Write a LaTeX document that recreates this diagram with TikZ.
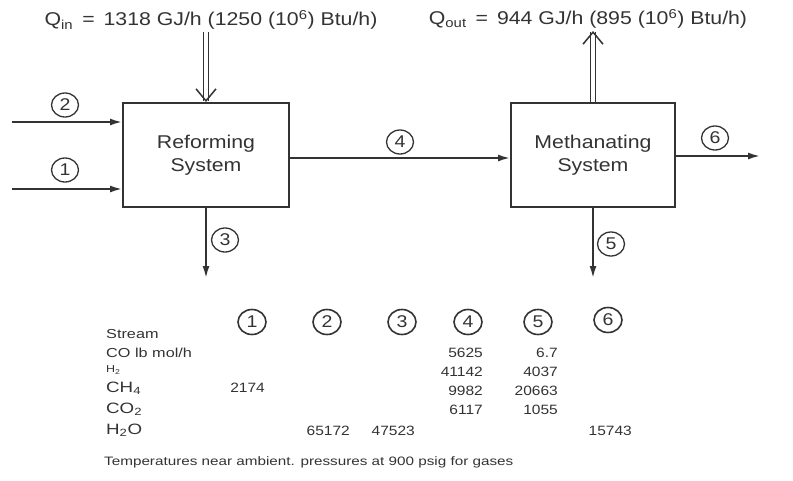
\documentclass[tikz,border=0pt]{standalone}
\usepackage{fontspec}
\setmainfont[FakeStretch=1.15]{Liberation Sans}
\newfontfamily\tabfont[FakeStretch=1.25]{Liberation Sans}
\usepackage{tikz}
\usetikzlibrary{positioning, arrows.meta, shapes.geometric}

\begin{document}
\begin{tikzpicture}[
    x=1pt, y=-1pt,
    text=black!80,
    font=\fontsize{18.5}{23}\selectfont,
    unit/.style={draw=black!80, line width=2pt, minimum width=166pt,
                 minimum height=104pt, align=center, inner sep=0pt},
    tag/.style={ellipse, draw=black!80, line width=1.3pt, minimum width=27pt,
                minimum height=24pt, inner sep=0pt,
                font=\fontsize{17}{17}\selectfont},
    head/.style={tag, line width=1.6pt, minimum width=28pt, minimum height=25pt},
    flow/.style={-{Latex[length=12pt, width=7pt]}, line width=1.8pt, draw=black!80},
    heat/.style={double=white, double distance=4pt, line width=1.3pt, draw=black!80},
    barb/.style={-{Straight Barb[length=12pt, width=20pt]}, line width=1.5pt, draw=black!80},
    qlab/.style={inner sep=0pt},
    rowlab/.style={anchor=west, inner sep=0pt, font=\tabfont\fontsize{13}{13}\selectfont},
    species/.style={rowlab, font=\tabfont\fontsize{15}{15}\selectfont},
    val/.style={anchor=east, inner sep=0pt, font=\fontsize{13.5}{13.5}\selectfont},
  ]
  \useasboundingbox (0,0) rectangle (793,480);
  % ---- process units ----
  \node[unit] (reform) at (206,155) {Reforming\\System};
  \node[unit, minimum width=164pt] (methan) at (593,155) {Methanating\\System};
  % ---- heat duties ----
  \node[qlab] (qin)  at (211,20) {Q\textsubscript{in} \,=\, 1318 GJ/h (1250 (10\textsuperscript{6}) Btu/h)};
  \node[qlab] (qout) at (588,19) {Q\textsubscript{out} \,=\, 944 GJ/h (895 (10\textsuperscript{6}) Btu/h)};
  \coordinate (qtop) at (methan.north |- 0,31);
  \draw[heat] (reform.north |- 0,32) -- ([yshift=1pt]reform.north);
  \draw[barb] ([yshift=1pt]reform.north) -- (reform.north);
  \draw[heat] (methan.north) -- ([yshift=-1pt]qtop);
  \draw[barb] ([yshift=-1pt]qtop) -- (qtop);
  % ---- stream ends ----
  \coordinate (in2)  at (12,122);
  \coordinate (in1)  at (12,189);
  \coordinate (out3) at (206,278);
  \coordinate (out5) at (593,278);
  \coordinate (out6) at (760,156);
  % ---- streams ----
  \draw[flow] (in2) -- (in2 -| reform.west);
  \draw[flow] (in1) -- (in1 -| reform.west);
  \draw[flow] (reform.south) -- (out3);
  \draw[flow] (reform.east |- 0,158) -- (methan.west |- 0,158);
  \draw[flow] (methan.south) -- (out5);
  \draw[flow] (methan.east |- out6) -- (out6);
  \node[tag] (s2) at (65,105)  {2};
  \node[tag] (s1) at (65,170)  {1};
  \node[tag] (s3) at (225,240) {3};
  \node[tag] (s4) at (400,142) {4};
  \node[tag] (s5) at (611,244) {5};
  \node[tag] (s6) at (715,138) {6};
  % ---- stream table: headers ----
  \node[head] (h1) at (252,322) {1};
  \node[head] (h2) at (327,322) {2};
  \node[head] (h3) at (402,322) {3};
  \node[head] (h4) at (468,322) {4};
  \node[head] (h5) at (538,322) {5};
  \node[head] (h6) at (608,320) {6};
  % ---- stream table: rows ----
  \node[rowlab]  (lstream) at (106,334) {Stream};
  \node[rowlab]  (lco)  at (106,353) {CO lb mol/h};
  \node[rowlab, font=\tabfont\fontsize{10}{10}\selectfont] (lh2) at (106,370) {H\textsubscript{2}};
  \node[species] (lch4) at (106,388) {CH\textsubscript{4}};
  \node[species] (lco2) at (106,409) {CO\textsubscript{2}};
  \node[species] (lh2o) at (106,430) {H\textsubscript{2}O};
  % ---- stream table: values ----
  \node[val] (ch4a) at (265,388) {2174};
  \node[val] (h2ob) at (350,431) {65172};
  \node[val] (h2oc) at (415,431) {47523};
  \node[val] (cod)  at (483,353) {5625};
  \node[val] (h2d)  at (483,372) {41142};
  \node[val] (ch4d) at (483,391) {9982};
  \node[val] (co2d) at (483,410) {6117};
  \node[val] (coe)  at (558,353) {6.7};
  \node[val] (h2e)  at (558,372) {4037};
  \node[val] (ch4e) at (558,391) {20663};
  \node[val] (co2e) at (558,410) {1055};
  \node[val] (h2of) at (632,431) {15743};
  \node[rowlab, font=\tabfont\fontsize{12.2}{12.2}\selectfont] (note) at (104,462)
      {Temperatures near ambient. pressures at 900 psig for gases};
\end{tikzpicture}
\end{document}
